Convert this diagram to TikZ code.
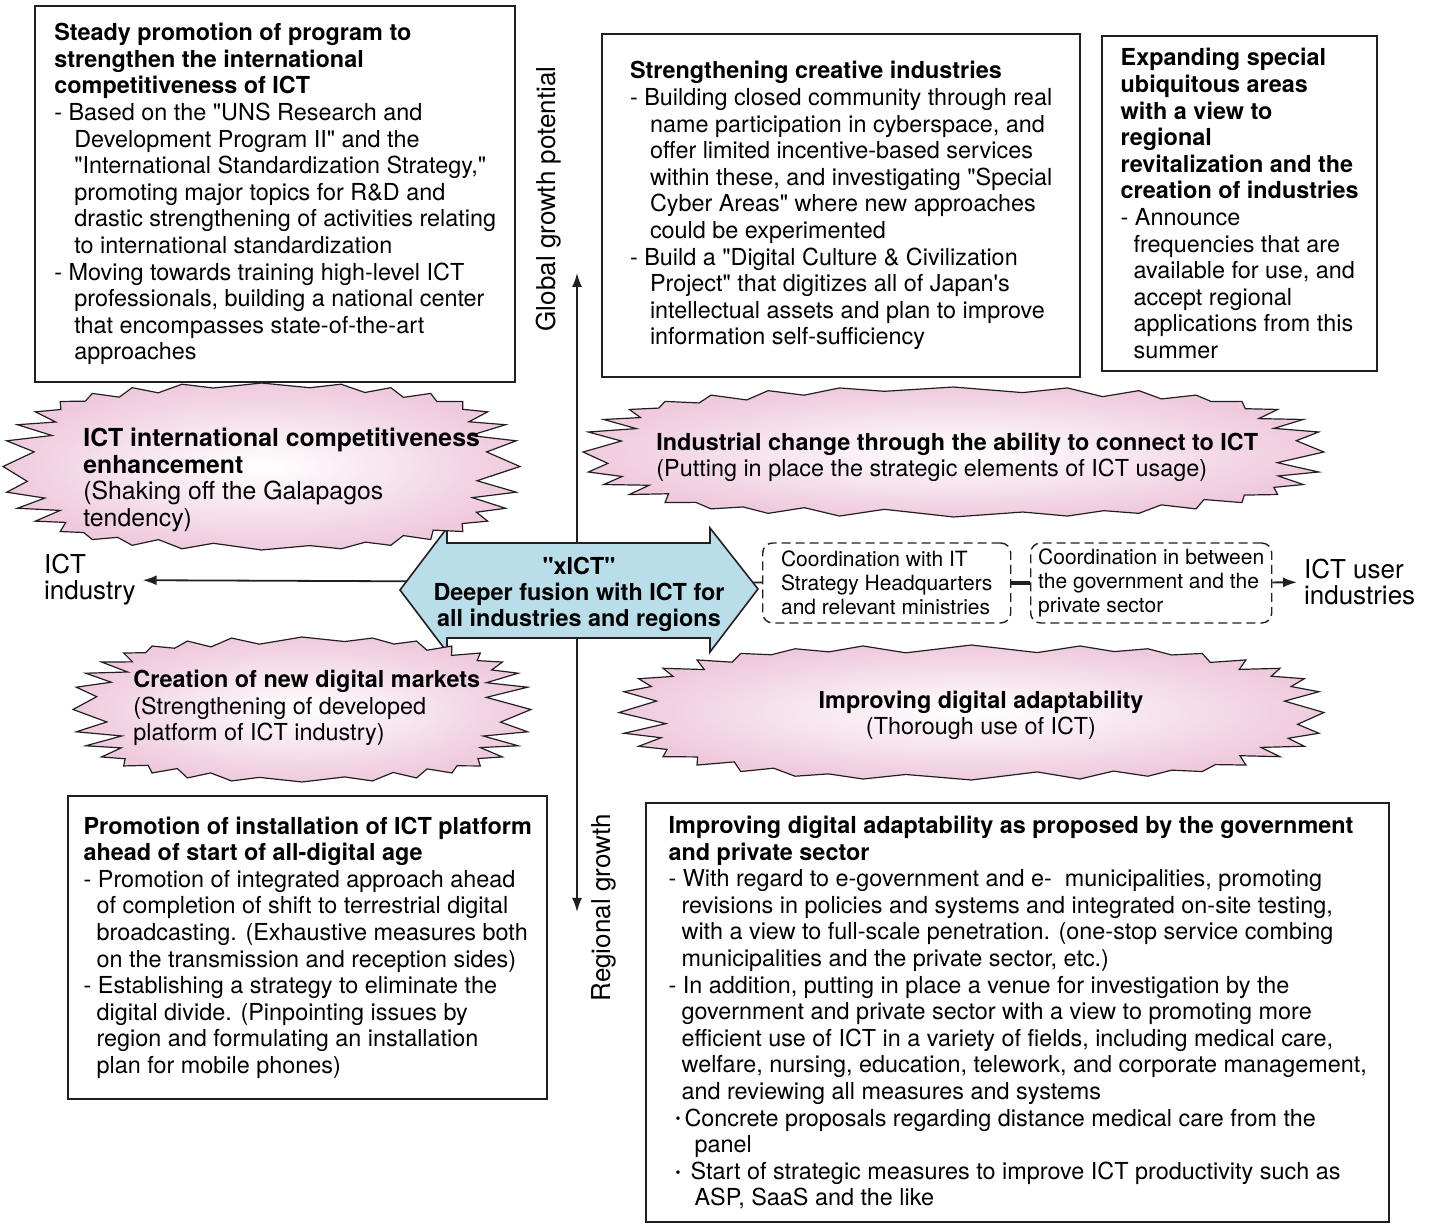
\documentclass[tikz,border=0pt]{standalone}
\usepackage{fontspec}
\setmainfont{TeX Gyre Heros}[Ligatures=TeXOff]
\usepackage{tikz}
\usetikzlibrary{arrows.meta}
\definecolor{burstpink}{RGB}{239,202,222}
\definecolor{arrowblue}{RGB}{185,221,233}
\definecolor{ink}{RGB}{35,31,32}
\newcommand{\hind}[1][10pt]{\hspace*{#1}}
\newcommand{\dotmark}{\raisebox{1.1pt}{\fontsize{7}{7}\selectfont\textbullet}}
% jagged outline: centre x, centre y, half width, half height, seed
\newcommand{\pinkburst}[5]{%
  \shadedraw[burstline] plot[samples at={0,...,63}, variable=\k]
    ({#1+(#3-zig(\k)*46*jit(\k+#5)*side(\k*5.625))*sx(\k*5.625)},
     {#2+(#4-zig(\k)*8*jit(\k+#5))*sy(\k*5.625)}) -- cycle;}
\tikzset{
  declare function={
    zig(\k)=mod(\k,2);
    jit(\k)=0.75+0.25*sin(\k*137);
    side(\t)=pow(abs(cos(\t)),1.5);
    sx(\t)=cos(\t)/pow(abs(cos(\t))+0.001,0.28);
    sy(\t)=sin(\t)/pow(abs(sin(\t))+0.001,0.28);
  },
  panel/.style={draw=ink, line width=1.2pt, align=left, anchor=north west, inner sep=0pt,
    font=\fontsize{11.7}{13.3}\selectfont},
  burstline/.style={draw=ink, line width=0.6pt, line join=miter, inner color=white, outer color=burstpink},
  bursttext/.style={align=left, inner sep=0pt, font=\fontsize{11.7}{13.3}\selectfont},
  linkbox/.style={draw=ink, line width=0.7pt, dash pattern=on 4.5pt off 2.5pt,
    rounded corners=5pt, align=left, anchor=west, inner sep=0pt,
    minimum height=40pt, font=\fontsize{10.5}{12}\selectfont},
  axislabel/.style={align=left, font=\fontsize{13}{13}\selectfont},
  axis/.style={draw=ink, line width=0.9pt},
  tip/.style={-{Latex[length=7pt,width=5pt]}}
}
\begin{document}
\begin{tikzpicture}[x=0.5pt,y=-0.5pt]
\useasboundingbox (0,0) rectangle (1431,1224);

% axes
\coordinate (o) at (577,582);
\coordinate (up) at (577,273);
\coordinate (down) at (577,912);
\node[axislabel, anchor=west] (ictind) at (37,580) {ICT\\industry};
\node[axislabel, anchor=west] (ictuser) at (1297,582) {ICT user\\industries};
\node[axislabel, rotate=90] (glob) at (549,199) {Global growth potential};
\node[axislabel, rotate=90] (regio) at (604,908) {Regional growth};
\node[linkbox, minimum width=124pt] (d1) at (762,583)
  {Coordination with IT\\Strategy Headquarters\\and relevant ministries};
\node[linkbox, minimum width=120.5pt] (d2) at (1030,583)
  {Coordination in between\\the government and the\\private sector};
\draw[axis,tip] (o) -- (up);
\draw[axis,tip] (o) -- (down);
\draw[axis,tip] (o) -- (ictind);
\draw[axis] (o) -- (d1);
\draw[axis, line width=1.6pt] (d1) -- (d2);
\draw[axis,tip] (d2) -- (ictuser);

% central double arrow
\filldraw[fill=arrowblue, draw=ink, line width=0.8pt]
  (400,590) -- (447,528) -- (447,543) -- (710,543) -- (710,528) -- (758,589)
  -- (710,652) -- (710,638) -- (447,638) -- (447,652) -- cycle;
\node[align=center, font=\bfseries\fontsize{11.7}{13}\selectfont] (xict) at (579,594)
  {"xICT"\\Deeper fusion with ICT for\\all industries and regions};

% starbursts
\pinkburst{261.5}{466.5}{258.5}{83.5}{0}
\pinkburst{953.5}{452}{370.5}{65}{5}
\pinkburst{302}{709.5}{229}{72.5}{11}
\pinkburst{971.5}{712.5}{352.5}{67.5}{17}
\node[bursttext, anchor=west, font=\fontsize{12.4}{13.2}\selectfont] (s1t) at (83,480)
  {\textbf{ICT international competitiveness}\\\textbf{enhancement}\\(Shaking off the Galapagos\\tendency)};
\node[bursttext, anchor=west] (s2t) at (656,457.5)
  {\textbf{Industrial change through the ability to connect to ICT}\\(Putting in place the strategic elements of ICT usage)};
\node[bursttext, anchor=west] (s3t) at (133,708)
  {\textbf{Creation of new digital markets}\\(Strengthening of developed\\platform of ICT industry)};
\node[bursttext, align=center] (s4t) at (981,715.5)
  {\textbf{Improving digital adaptability}\\(Thorough use of ICT)};

% measure panels
\node[panel, minimum width=240pt, minimum height=188pt] (intl) at (34,5) {%
\textbf{Steady promotion of program to}\\
\textbf{strengthen the international}\\
\textbf{competitiveness of ICT}\\
- Based on the "UNS Research and\\
\hind Development Program II" and the\\
\hind "International Standardization Strategy,"\\
\hind promoting major topics for R\&D and\\
\hind drastic strengthening of activities relating\\
\hind to international standardization\\
- Moving towards training high-level ICT\\
\hind professionals, building a national center\\
\hind that encompasses state-of-the-art\\
\hind approaches};
\node[panel, minimum width=239pt, minimum height=171.5pt] (creat) at (601,33) {%
\textbf{Strengthening creative industries}\\
- Building closed community through real\\
\hind name participation in cyberspace, and\\
\hind offer limited incentive-based services\\
\hind within these, and investigating "Special\\
\hind Cyber Areas" where new approaches\\
\hind could be experimented\\
- Build a "Digital Culture \& Civilization\\
\hind Project" that digitizes all of Japan's\\
\hind intellectual assets and plan to improve\\
\hind information self-sufficiency};
\node[panel, minimum width=137.5pt, minimum height=167.5pt] (ubiq) at (1101,35) {%
\textbf{Expanding special}\\
\textbf{ubiquitous areas}\\
\textbf{with a view to}\\
\textbf{regional}\\
\textbf{revitalization and the}\\
\textbf{creation of industries}\\
- Announce\\
\hind[6.5pt]frequencies that are\\
\hind[6.5pt]available for use, and\\
\hind[6.5pt]accept regional\\
\hind[6.5pt]applications from this\\
\hind[6.5pt]summer};
\node[panel, minimum width=239.5pt, minimum height=151.5pt] (platf) at (67,795) {%
\textbf{Promotion of installation of ICT platform}\\
\textbf{ahead of start of all-digital age}\\
- Promotion of integrated approach ahead\\
\hind[6.5pt]of completion of shift to terrestrial digital\\
\hind[6.5pt]broadcasting. (Exhaustive measures both\\
\hind[6.5pt]on the transmission and reception sides)\\
- Establishing a strategy to eliminate the\\
\hind[6.5pt]digital divide. (Pinpointing issues by\\
\hind[6.5pt]region and formulating an installation\\
\hind[6.5pt]plan for mobile phones)};
\node[panel, minimum width=371.5pt, minimum height=209.5pt] (adapt) at (645,802) {%
\textbf{Improving digital adaptability as proposed by the government}\\
\textbf{and private sector}\\
- With regard to e-government and e-\ \ municipalities, promoting\\
\hind[6.5pt]revisions in policies and systems and integrated on-site testing,\\
\hind[6.5pt]with a view to full-scale penetration. (one-stop service combing\\
\hind[6.5pt]municipalities and the private sector, etc.)\\
- In addition, putting in place a venue for investigation by the\\
\hind[6.5pt]government and private sector with a view to promoting more\\
\hind[6.5pt]efficient use of ICT in a variety of fields, including medical care,\\
\hind[6.5pt]welfare, nursing, education, telework, and corporate management,\\
\hind[6.5pt]and reviewing all measures and systems\\
\hind[3.5pt]\dotmark\hspace{2pt}Concrete proposals regarding distance medical care from the\\
\hind[13pt]panel\\
\hind[3.5pt]\dotmark\hspace{5pt}Start of strategic measures to improve ICT productivity such as\\
\hind[13pt]ASP, SaaS and the like};
\end{tikzpicture}
\end{document}
